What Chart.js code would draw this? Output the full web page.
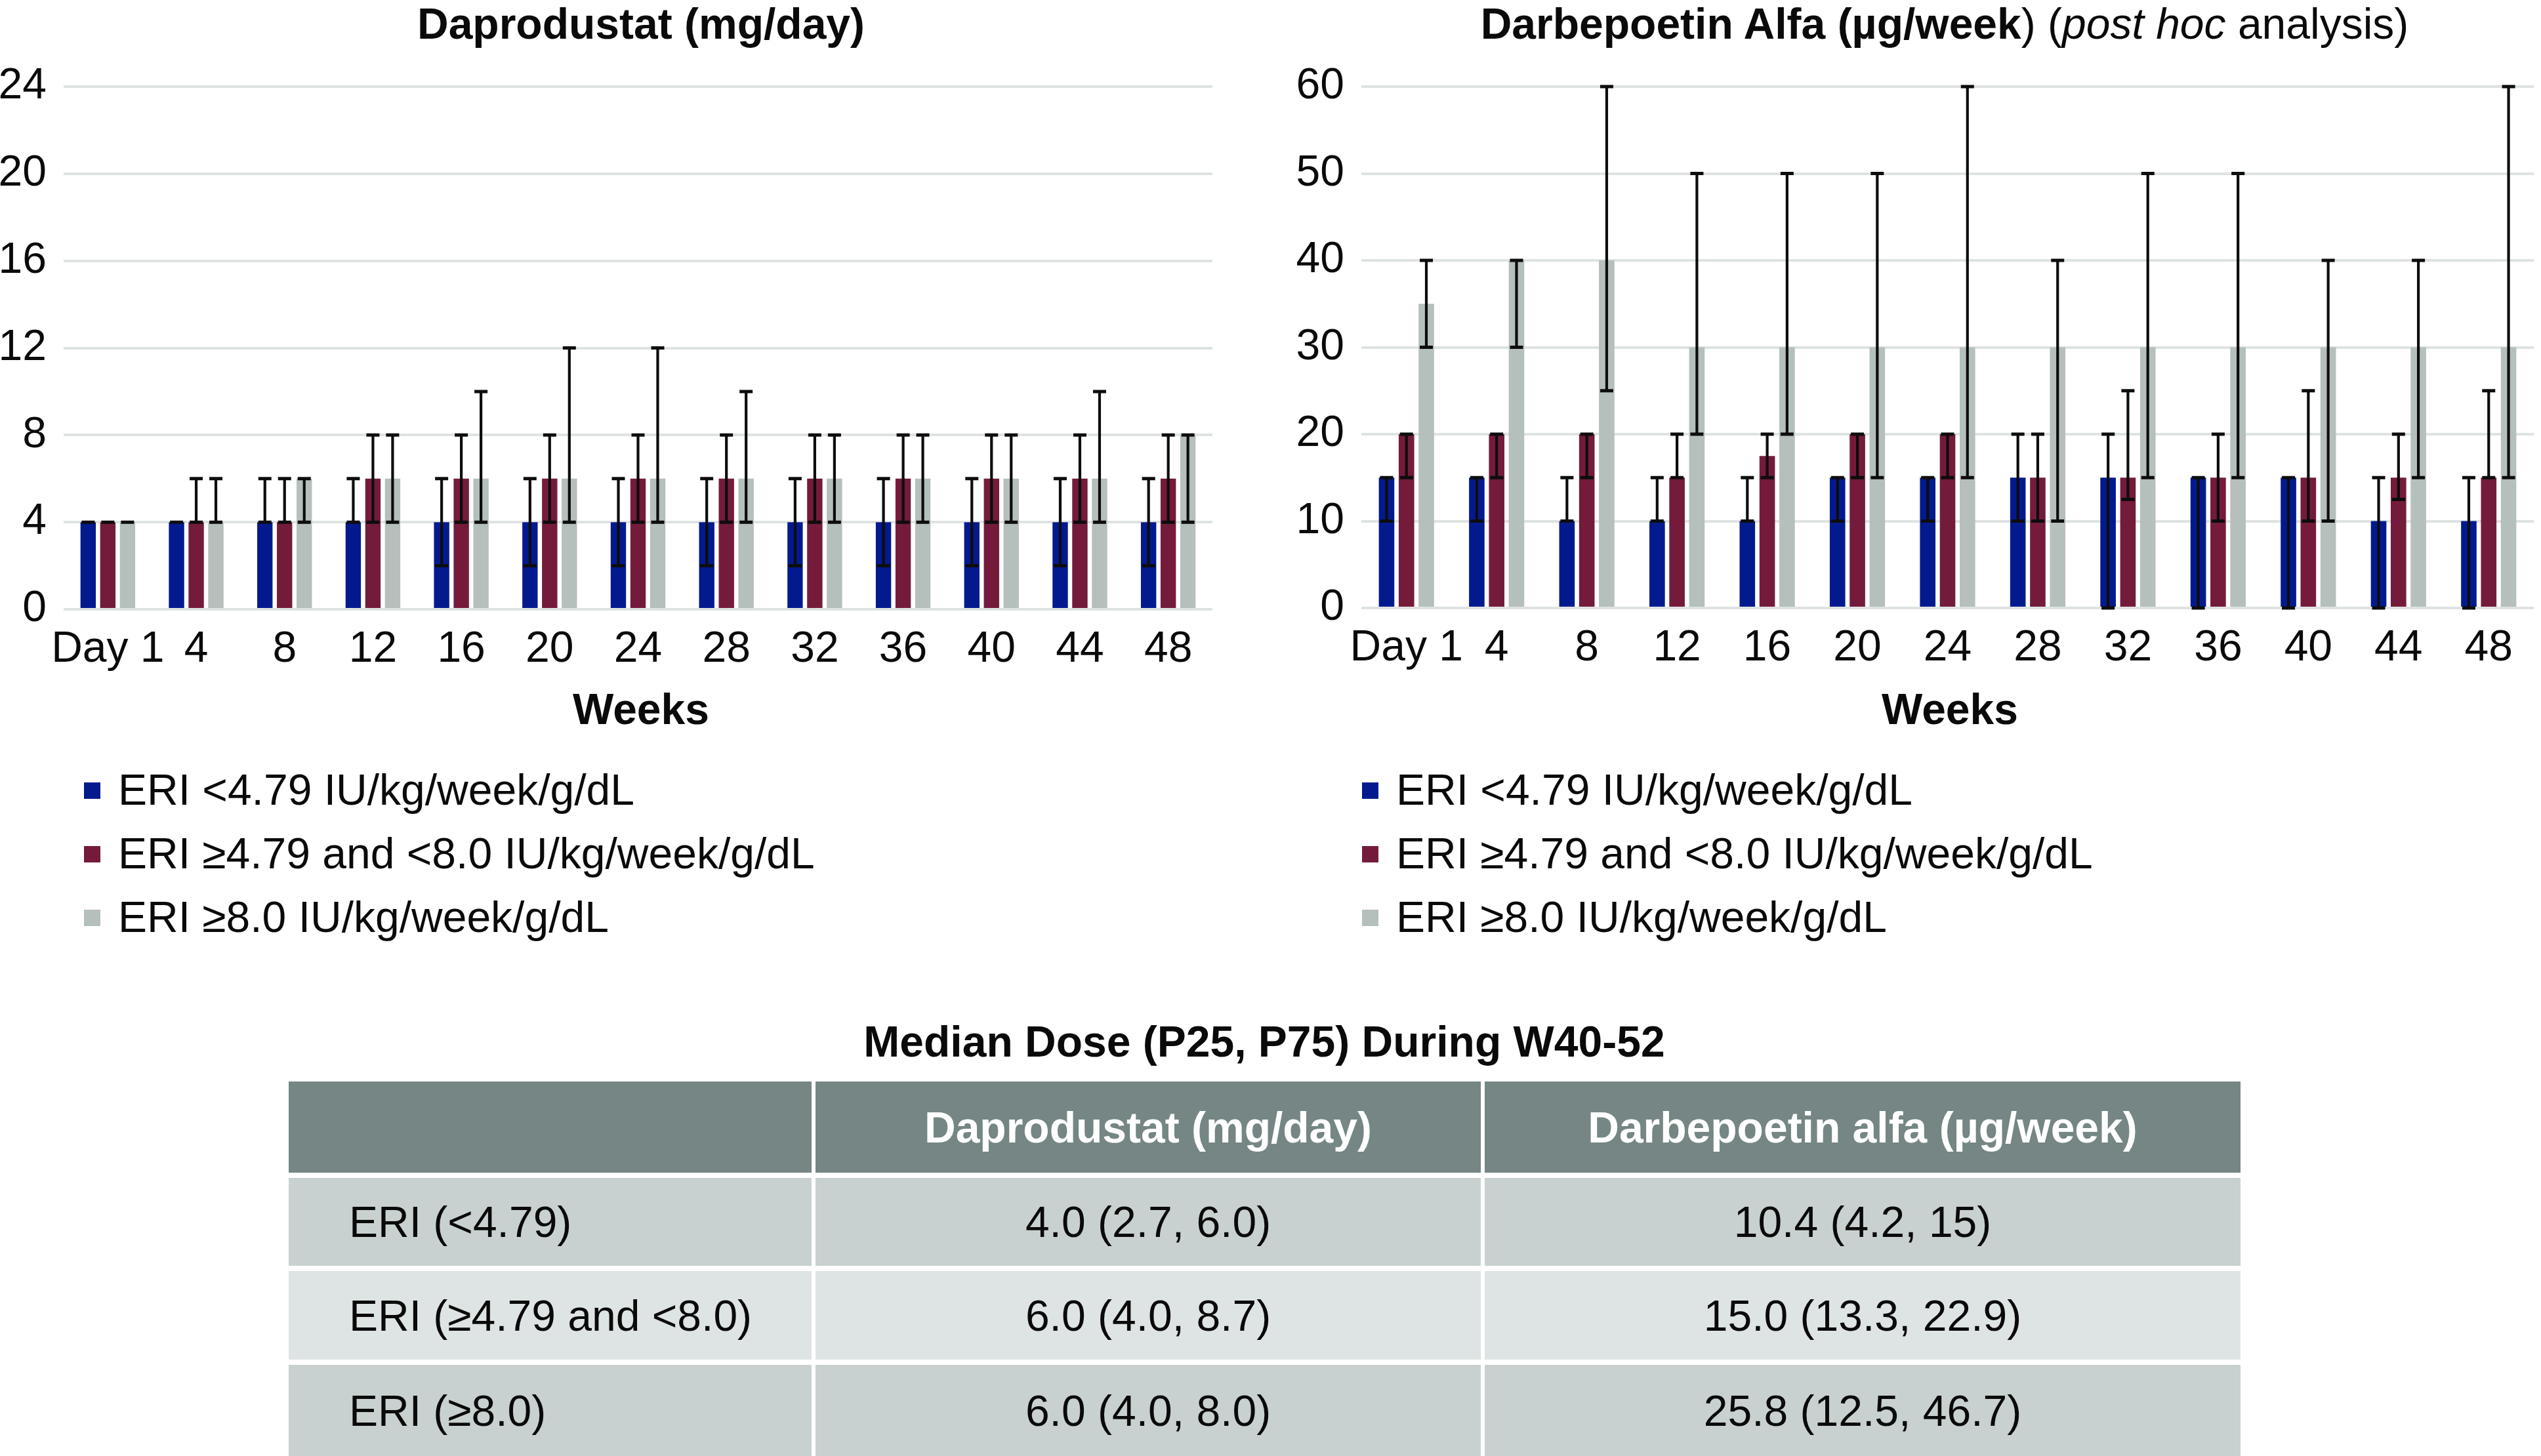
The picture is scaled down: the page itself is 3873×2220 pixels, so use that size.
<!DOCTYPE html>
<html>
<head>
<meta charset="utf-8">
<script src="https://cdn.jsdelivr.net/npm/chart.js@4.4.1/dist/chart.umd.min.js"></script>
<style>
  html, body { margin:0; padding:0; background:#fff; }
  body { width:3873px; height:2220px; position:relative; overflow:hidden;
         font-family:"Liberation Sans", Arial, Helvetica, sans-serif; color:#0a0a0a; }
  .abs { position:absolute; white-space:nowrap; line-height:66px; font-size:66px; }
  .ctr { transform:translateX(-50%); }
  .b { font-weight:bold; }
  .sq { position:absolute; width:25px; height:25px; }
  .cell { position:absolute; display:flex; align-items:center; font-size:66px; white-space:nowrap; }
  canvas { position:absolute; }
</style>
</head>
<body>
<canvas id="c1" width="1880" height="1040" style="left:0;top:0;width:1880px;height:1040px"></canvas>
<canvas id="c2" width="1973" height="1040" style="left:1900px;top:0;width:1973px;height:1040px"></canvas>
<div id="overlay"></div>
<script>
// ---------------- DATA ----------------
const weeks = ['Day 1','4','8','12','16','20','24','28','32','36','40','44','48'];
const seriesLabels = ['ERI <4.79 IU/kg/week/g/dL', 'ERI \u22654.79 and <8.0 IU/kg/week/g/dL', 'ERI \u22658.0 IU/kg/week/g/dL'];
const seriesColors = ['#031a8f', '#741b3c', '#b5bfbc'];

// Daprodustat (mg/day): median, P25, P75
const dapLow      = [4,4,4,4,4,4,4,4,4,4,4,4,4];
const dapLowP25   = [4,4,4,4,2,2,2,2,2,2,2,2,2];
const dapLowP75   = [4,4,6,6,6,6,6,6,6,6,6,6,6];
const dapMid      = [4,4,4,6,6,6,6,6,6,6,6,6,6];
const dapMidP25   = [4,4,4,4,4,4,4,4,4,4,4,4,4];
const dapMidP75   = [4,6,6,8,8,8,8,8,8,8,8,8,8];
const dapHigh     = [4,4,6,6,6,6,6,6,6,6,6,6,8];
const dapHighP25  = [4,4,4,4,4,4,4,4,4,4,4,4,4];
const dapHighP75  = [4,6,6,8,10,12,12,10,8,8,8,10,8];

// Darbepoetin alfa (µg/week): median, P25, P75
const darbLow     = [15,15,10,10,10,15,15,15,15,15,15,10,10];
const darbLowP25  = [10,10,10,10,10,10,10,10,0,0,0,0,0];
const darbLowP75  = [15,15,15,15,15,15,15,20,20,15,15,15,15];
const darbMid     = [20,20,20,15,17.5,20,20,15,15,15,15,15,15];
const darbMidP25  = [15,15,15,15,15,15,15,10,12.5,10,10,12.5,15];
const darbMidP75  = [20,20,20,20,20,20,20,20,25,20,25,20,25];
const darbHigh    = [35,40,40,30,30,30,30,30,30,30,30,30,30];
const darbHighP25 = [30,30,25,20,20,15,15,10,15,15,10,15,15];
const darbHighP75 = [40,40,60,50,50,50,60,40,50,50,40,40,60];

const dapTicksMax = 24, dapStep = 4;
const darbTicksMax = 60, darbStep = 10;

// Table
const tableTitle = 'Median Dose (P25, P75) During W40-52';
const tableHeader = ['', 'Daprodustat (mg/day)', 'Darbepoetin alfa (\u00b5g/week)'];
const tableRows = [
  ['ERI (<4.79)', '4.0 (2.7, 6.0)', '10.4 (4.2, 15)'],
  ['ERI (\u22654.79 and <8.0)', '6.0 (4.0, 8.7)', '15.0 (13.3, 22.9)'],
  ['ERI (\u22658.0)', '6.0 (4.0, 8.0)', '25.8 (12.5, 46.7)']
];

// ---------------- CHARTS ----------------
const FONT = '"Liberation Sans", Arial, Helvetica, sans-serif';

const errorBarPlugin = {
  id: 'errorBars',
  afterDatasetsDraw(chart) {
    const ctx = chart.ctx;
    const ys = chart.scales.y;
    chart.data.datasets.forEach((ds, i) => {
      const meta = chart.getDatasetMeta(i);
      meta.data.forEach((bar, j) => {
        const x = bar.x;
        const yLo = ys.getPixelForValue(ds.errLow[j]);
        const yHi = ys.getPixelForValue(ds.errHigh[j]);
        ctx.save();
        ctx.strokeStyle = '#0d0d0d';
        ctx.lineWidth = 4.2;
        ctx.lineCap = 'butt';
        ctx.beginPath();
        ctx.moveTo(x, yLo); ctx.lineTo(x, yHi);
        ctx.stroke();
        ctx.lineWidth = 5;
        ctx.beginPath();
        ctx.moveTo(x - 10, yLo); ctx.lineTo(x + 10, yLo);
        ctx.moveTo(x - 10, yHi); ctx.lineTo(x + 10, yHi);
        ctx.stroke();
        ctx.restore();
      });
    });
  }
};

function makeChart(id, meds, lows, highs, max, step, yWidth, xHeight, padRight, catPct) {
  return new Chart(document.getElementById(id), {
    type: 'bar',
    data: {
      labels: weeks,
      datasets: meds.map((m, i) => ({
        label: seriesLabels[i],
        data: m,
        errLow: lows[i],
        errHigh: highs[i],
        backgroundColor: seriesColors[i],
        borderWidth: 0,
        categoryPercentage: catPct,
        barPercentage: 0.78
      }))
    },
    options: {
      responsive: false,
      animation: false,
      devicePixelRatio: 1,
      layout: { padding: { top: 132, left: 0, right: padRight, bottom: 0 } },
      plugins: { legend: { display: false }, tooltip: { enabled: false }, title: { display: false } },
      scales: {
        x: {
          grid: { display: false, drawTicks: false },
          border: { display: false },
          ticks: { color: '#0a0a0a', font: { family: FONT, size: 66 }, padding: 22, maxRotation: 0, autoSkip: false },
          afterFit: (s) => { s.height = xHeight; }
        },
        y: {
          min: 0, max: max,
          grid: { color: '#dee3e2', lineWidth: 4, drawTicks: false },
          border: { display: false },
          ticks: { stepSize: step, color: '#0a0a0a', font: { family: FONT, size: 66 }, padding: 26 },
          afterFit: (s) => { s.width = yWidth; }
        }
      }
    },
    plugins: [errorBarPlugin]
  });
}

makeChart('c1', [dapLow, dapMid, dapHigh], [dapLowP25, dapMidP25, dapHighP25], [dapLowP75, dapMidP75, dapHighP75],
          dapTicksMax, dapStep, 97, 1040 - 929, 32, 0.668);
makeChart('c2', [darbLow, darbMid, darbHigh], [darbLowP25, darbMidP25, darbHighP25], [darbLowP75, darbMidP75, darbHighP75],
          darbTicksMax, darbStep, 175, 1040 - 927, 11, 0.661);

// ---------------- TEXT / LEGEND / TABLE ----------------
const ov = document.getElementById('overlay');
function txt(html, left, top, cls) {
  const d = document.createElement('div');
  d.className = 'abs ' + (cls || '');
  d.style.left = left + 'px';
  d.style.top = top + 'px';
  d.innerHTML = html;
  ov.appendChild(d);
  return d;
}
// titles
txt('Daprodustat (mg/day)', 977, 3, 'ctr b');
txt('<b>Darbepoetin Alfa (\u00b5g/week</b>) (<i>post hoc</i> analysis)', 2964, 3, 'ctr');
// axis titles
txt('Weeks', 977, 1048, 'ctr b');
txt('Weeks', 2972, 1048, 'ctr b');
// legends
const legendRowsY = [1205, 1302, 1399];
[[128, 180], [2076, 2128]].forEach(([sqx, tx]) => {
  seriesLabels.forEach((lab, i) => {
    const s = document.createElement('div');
    s.className = 'sq';
    s.style.left = sqx + 'px';
    s.style.top = (legendRowsY[i] - 12) + 'px';
    s.style.background = seriesColors[i];
    ov.appendChild(s);
    const t = txt('', tx, legendRowsY[i] + 22 - 56);
    t.textContent = lab;
  });
});
// table
const tt = txt('', 1927, 1555, 'ctr b');
tt.textContent = tableTitle;
const colX = [[440, 1237], [1243, 2257], [2263, 3415]];
const rowY = [[1649, 1788], [1796, 1930], [1938, 2073], [2081, 2220]];
const rowBg = ['#758684', '#c8d1cf', '#dee4e3', '#c8d1cf'];
const allRows = [tableHeader].concat(tableRows);
allRows.forEach((row, r) => {
  row.forEach((val, c) => {
    const d = document.createElement('div');
    d.className = 'cell';
    d.style.left = colX[c][0] + 'px';
    d.style.width = (colX[c][1] - colX[c][0]) + 'px';
    d.style.top = rowY[r][0] + 'px';
    d.style.height = (rowY[r][1] - rowY[r][0]) + 'px';
    d.style.background = rowBg[r];
    if (c === 0) { d.style.justifyContent = 'flex-start'; d.style.paddingLeft = '92px'; d.style.boxSizing = 'border-box'; }
    else { d.style.justifyContent = 'center'; }
    if (r === 0) { d.style.color = '#fff'; d.style.fontWeight = 'bold'; }
    d.textContent = val;
    ov.appendChild(d);
  });
});
</script>
</body>
</html>
